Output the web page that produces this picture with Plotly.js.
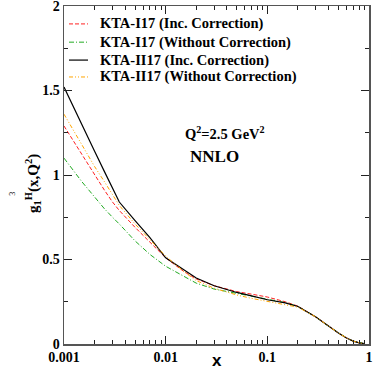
<!DOCTYPE html>
<html><head><meta charset="utf-8">
<script src="https://cdn.plot.ly/plotly-3.0.1.min.js"></script>
<style>html,body{margin:0;padding:0;background:#fff}#plot{width:374px;height:376px}</style>
</head><body><div id="plot"></div>
<script>
const xValues = [0.001,0.0015,0.002,0.0025,0.003,0.0035,0.005,0.007,0.01,0.015,0.02,0.03,0.05,0.07,0.1,0.15,0.2,0.3,0.4,0.5,0.6,0.7,0.8,0.9];
const ktaI17Inc =     [1.29,1.12,1.00,0.91,0.84,0.79,0.69,0.60,0.51,0.43,0.385,0.345,0.31,0.295,0.278,0.25,0.224,0.16,0.105,0.065,0.036,0.017,0.007,0.002];
const ktaI17Without = [1.10,0.96,0.87,0.80,0.75,0.71,0.61,0.53,0.46,0.40,0.36,0.325,0.30,0.285,0.268,0.245,0.222,0.16,0.105,0.065,0.036,0.017,0.007,0.002];
const ktaII17Inc =    [1.52,1.294,1.14,1.02,0.92,0.84,0.73,0.63,0.51,0.44,0.39,0.345,0.305,0.285,0.262,0.243,0.222,0.16,0.105,0.065,0.036,0.017,0.007,0.002];
const ktaII17Without =[1.36,1.18,1.05,0.96,0.88,0.82,0.71,0.62,0.52,0.43,0.375,0.33,0.29,0.27,0.252,0.236,0.218,0.16,0.105,0.065,0.036,0.017,0.007,0.002];
const seriesNames = ["KTA-I17 (Inc. Correction)","KTA-I17 (Without Correction)","KTA-II17 (Inc. Correction)","KTA-II17 (Without Correction)"];
const xTickVals = [0.001,0.01,0.1,1];
const xTickText = ["0.001","0.01","0.1","1"];
const yTickVals = [0,0.5,1,1.5,2];
const yTickText = ["0","0.5","1","1.5","2"];

const serif = "Liberation Serif, Times New Roman, serif";
const lineStyles = [
  {color:"#ff2020",width:1,dash:"4px,2px"},
  {color:"#22aa22",width:1,dash:"5px,2px,1px,2px"},
  {color:"#000000",width:1.2,dash:"solid"},
  {color:"#ffa500",width:1,dash:"4px,2px,1px,2px,1px,2px"}
];
const seriesData = [ktaI17Inc,ktaI17Without,ktaII17Inc,ktaII17Without];
const traces = seriesData.map((ys,i)=>({x:xValues,y:ys,name:seriesNames[i],mode:"lines",line:lineStyles[i],showlegend:false}));

// manual legend (positions in paper coords)
const legendY = [0.947,0.893,0.840,0.790];
const shapes = [];
const annotations = [];
seriesNames.forEach((nm,i)=>{
  shapes.push({type:"line",xref:"paper",yref:"paper",x0:0.0164,x1:0.0787,y0:legendY[i],y1:legendY[i],line:lineStyles[i]});
  annotations.push({xref:"paper",yref:"paper",x:0.11,y:legendY[i],xanchor:"left",yanchor:"middle",showarrow:false,
    text:"<b>"+nm+"</b>",font:{family:serif,size:14.5,color:"#000"}});
});

const axisCommon = {showline:true,linecolor:"#555",linewidth:1.5,mirror:"allticks",ticks:"inside",tickcolor:"#222",showgrid:false,zeroline:false,
  ticklabeloverflow:"allow",
  tickfont:{family:serif,size:14,color:"#000",weight:"bold"}};
annotations.push(
  {xref:"paper",yref:"paper",x:-0.10,y:0.475,xanchor:"center",yanchor:"middle",showarrow:false,textangle:-90,
   text:"<b>g<sub>1</sub><sup>H</sup>(x,Q<sup>2</sup>)</b>",font:{family:serif,size:15,color:"#000"}},
  {xref:"paper",yref:"paper",x:-0.167,y:0.445,xanchor:"center",yanchor:"middle",showarrow:false,textangle:-90,
   text:"3",font:{family:serif,size:8,color:"#000"}},
  {xref:"paper",yref:"paper",x:0.5,y:-0.05,xanchor:"center",yanchor:"middle",showarrow:false,
   text:"<b>x</b>",font:{family:"Liberation Sans, Arial, sans-serif",size:17,color:"#000"}},
  {xref:"paper",yref:"paper",x:0.39,y:0.625,xanchor:"left",yanchor:"middle",showarrow:false,
   text:"<b>Q<sup>2</sup>=2.5 GeV<sup>2</sup></b>",font:{family:serif,size:14.5,color:"#000"}},
  {xref:"paper",yref:"paper",x:0.405,y:0.555,xanchor:"left",yanchor:"middle",showarrow:false,
   text:"<b>NNLO</b>",font:{family:serif,size:17,color:"#000"}}
);
const layout = {
  width:374,height:376,margin:{l:64,r:5,t:6,b:32},
  paper_bgcolor:"#fff",plot_bgcolor:"#fff",
  showlegend:false,
  xaxis:Object.assign({},axisCommon,{type:"log",range:[-3,0],tickmode:"array",tickvals:xTickVals,ticktext:xTickText,ticklen:8,
    minor:{tickmode:"array",tickvals:[0.002,0.003,0.004,0.005,0.006,0.007,0.008,0.009,0.02,0.03,0.04,0.05,0.06,0.07,0.08,0.09,0.2,0.3,0.4,0.5,0.6,0.7,0.8,0.9],ticklen:4,ticks:"inside",tickcolor:"#222"}}),
  yaxis:Object.assign({},axisCommon,{range:[0,2],tickmode:"array",tickvals:yTickVals,ticktext:yTickText,ticklen:8,
    minor:{dtick:0.25,ticklen:4,ticks:"inside",tickcolor:"#222"}}),
  shapes:shapes,
  annotations:annotations
};
Plotly.newPlot("plot",traces,layout,{displayModeBar:false,staticPlot:true});
</script></body></html>
